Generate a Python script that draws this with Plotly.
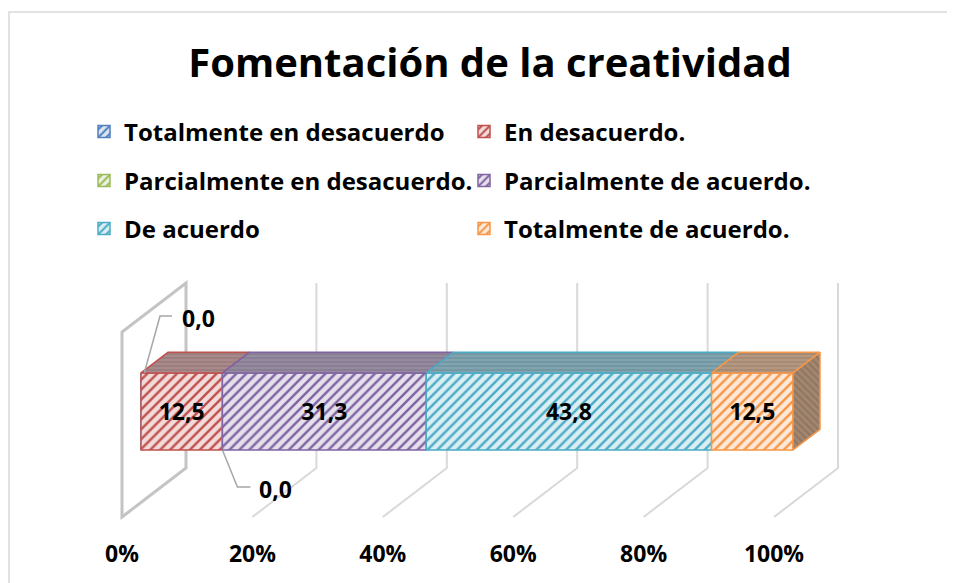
import plotly.graph_objects as go

# data
categories = ["Totalmente en desacuerdo", "En desacuerdo.", "Parcialmente en desacuerdo.",
              "Parcialmente de acuerdo.", "De acuerdo", "Totalmente de acuerdo."]
values = [0.0, 12.5, 0.0, 31.3, 43.8, 12.5]
tick_values = [0, 20, 40, 60, 80, 100]
tick_labels = ["0%", "20%", "40%", "60%", "80%", "100%"]

# styles
colors = ["#4F81BD", "#C0504D", "#9BBB59", "#8064A2", "#4BACC6", "#F79646"]
tints = ["#dbe5f1", "#f2dcdb", "#ebf1de", "#e5e0ec", "#dbeef3", "#fde9d9"]
top_bg = ["#8c9bb0", "#a88a8c", "#a0aa8c", "#958b9f", "#82a4ae", "#b39780"]
top_fg = ["#6e7e96", "#8a6a6c", "#84906c", "#776c83", "#5f8894", "#957860"]
FONT = "Open Sans"

# geometry of the fake 3D box, in reference pixels
W, H = 955, 583
OFF = 8                 # page body margin, so shift everything up/left
FW, FH = W - OFF, H - OFF
PLOT_B = 538 - OFF      # bottom of plot area (figure px)
PX = 6.52               # pixels per percent
X0_FRONT = 141          # 0% on the bar front plane
FLOOR_X, FLOOR_Y = 122, 517
DEPTH_DX, DEPTH_DY = 64, 49
WALL_H = 185
T_FRONT = (X0_FRONT - FLOOR_X) / DEPTH_DX
T_BACK = T_FRONT + 27 / DEPTH_DX
Z_BOT, Z_TOP = 52.5, 129.5


def proj(v, t, z):
    x_px = FLOOR_X + PX * v + DEPTH_DX * t
    y_px = FLOOR_Y - DEPTH_DY * t - z - OFF
    return (x_px - X0_FRONT) / PX, PLOT_B - y_px


total = sum(values)
shares = [v / total * 100 for v in values]
starts = [sum(shares[:i]) for i in range(len(shares))]
ends = [s + w for s, w in zip(starts, shares)]

_, y_bot = proj(0, T_FRONT, Z_BOT)
_, y_top = proj(0, T_FRONT, Z_TOP)
y_mid = (y_bot + y_top) / 2

fig = go.Figure()
legends = ["legend", "legend", "legend2", "legend2", "legend3", "legend3"]
lab_font = dict(family=FONT, size=23, color="black", weight="bold")

# front faces
for i, name in enumerate(categories):
    fig.add_trace(go.Bar(
        x=[shares[i]], y=[y_mid], base=[starts[i]], orientation="h", width=y_top - y_bot,
        name=name, legend=legends[i], customdata=[values[i]],
        texttemplate="%{customdata:.1f}" if values[i] > 0 else "",
        textposition="inside", insidetextanchor="middle", textfont=lab_font,
        marker=dict(color=tints[i], line=dict(color=colors[i], width=1.5),
                    pattern=dict(shape="/", fgcolor=colors[i], bgcolor=tints[i],
                                 size=7, solidity=0.35, fillmode="replace")),
        hoverinfo="skip",
    ))

# top faces and right side
for i in range(len(values)):
    if values[i] <= 0:
        continue
    pts = [proj(starts[i], T_FRONT, Z_TOP), proj(ends[i], T_FRONT, Z_TOP),
           proj(ends[i], T_BACK, Z_TOP), proj(starts[i], T_BACK, Z_TOP),
           proj(starts[i], T_FRONT, Z_TOP)]
    fig.add_trace(go.Scatter(
        x=[p[0] for p in pts], y=[p[1] for p in pts], mode="lines", fill="toself",
        fillcolor=top_bg[i], line=dict(color=colors[i], width=1.5),
        fillpattern=dict(shape="-", fgcolor=top_fg[i], bgcolor=top_bg[i], size=4, solidity=0.4),
        showlegend=False, hoverinfo="skip"))

last = len(values) - 1
pts = [proj(ends[last], T_FRONT, Z_BOT), proj(ends[last], T_FRONT, Z_TOP),
       proj(ends[last], T_BACK, Z_TOP), proj(ends[last], T_BACK, Z_BOT),
       proj(ends[last], T_FRONT, Z_BOT)]
fig.add_trace(go.Scatter(
    x=[p[0] for p in pts], y=[p[1] for p in pts], mode="lines", fill="toself",
    fillcolor="#a28670", line=dict(color=colors[last], width=1.5),
    fillpattern=dict(shape="\\", fgcolor="#7d6450", bgcolor="#a28670", size=5, solidity=0.4),
    showlegend=False, hoverinfo="skip"))

# walls and gridlines (behind)
shapes = []
for v in tick_values:
    b0 = proj(v, 0, 0)
    b1 = proj(v, 1, 0)
    t1 = proj(v, 1, WALL_H)
    if v == 0:
        t0 = proj(v, 0, WALL_H)
        path = "M {} {} L {} {} L {} {} L {} {} Z".format(b0[0], b0[1], b1[0], b1[1], t1[0], t1[1], t0[0], t0[1])
        shapes.append(dict(type="path", path=path, xref="x", yref="y", layer="below",
                           line=dict(color="#c4c4c4", width=3)))
    else:
        path = "M {} {} L {} {} L {} {}".format(b0[0], b0[1], b1[0], b1[1], t1[0], t1[1])
        shapes.append(dict(type="path", path=path, xref="x", yref="y", layer="below",
                           line=dict(color="#d9d9d9", width=2)))

# chart border
shapes.append(dict(type="rect", xref="paper", yref="paper", x0=(9 - OFF) / FW, x1=1.05,
                   y0=-0.3, y1=(PLOT_B - (12 - OFF)) / PLOT_B, line=dict(color="#d9d9d9", width=1.5),
                   layer="below"))
fig.update_layout(shapes=shapes)

# zero labels with leader lines
zero_idx = [i for i, v in enumerate(values) if v == 0]
leader_spec = {0: (Z_TOP, 1), 2: (Z_BOT, -1)}   # attach to top or bottom edge, direction
for i in zero_idx:
    z, d = leader_spec.get(i, (Z_TOP, 1))
    x0, y0 = proj(starts[i], T_FRONT, z)
    if d > 0:
        xs = [x0 + 0.5, x0 + 19 / PX, x0 + 31 / PX]
        ys = [y0, y0 + 57, y0 + 57]
        lx, ly = x0 + 57 / PX, y0 + 55
    else:
        xs = [x0, x0 + 15 / PX, x0 + 28 / PX]
        ys = [y0, y0 - 37, y0 - 37]
        lx, ly = x0 + 53 / PX, y0 - 39
    fig.add_trace(go.Scatter(x=xs, y=ys, mode="lines", line=dict(color="#a6a6a6", width=1.5),
                             showlegend=False, hoverinfo="skip"))
    fig.add_annotation(x=lx, y=ly, text="{:.1f}".format(values[i]).replace(".", ","),
                       showarrow=False, xanchor="center", yanchor="middle", font=lab_font)

# figure px 0 is reference px OFF
x_lo = -(X0_FRONT - OFF) / PX
x_hi = (W - X0_FRONT) / PX
fig.update_layout(
    width=FW, height=FH,
    margin=dict(l=0, r=0, t=0, b=FH - PLOT_B),
    plot_bgcolor="white", paper_bgcolor="white",
    barmode="overlay",
    separators=",.",
    title=dict(text="Fomentación de la creatividad", x=(490 - OFF) / FW, xanchor="center",
               y=1 - (63 - OFF) / FH, yanchor="middle",
               font=dict(family=FONT, size=40, color="black", weight="bold")),
    xaxis=dict(range=[x_lo, x_hi], showgrid=False, zeroline=False, showline=False,
               tickvals=[proj(v, 0, 0)[0] for v in tick_values], ticktext=tick_labels,
               ticks="", tickfont=lab_font),
    yaxis=dict(range=[0, PLOT_B], visible=False),
)

leg_font = dict(family=FONT, size=24, color="black", weight="bold")
for key, ypx in [("legend", 132), ("legend2", 181), ("legend3", 229)]:
    fig.update_layout({key: dict(orientation="h", x=(80 - OFF + 4) / FW, xanchor="left",
                                 y=(PLOT_B - (ypx - OFF)) / PLOT_B, yanchor="middle",
                                 entrywidth=335, entrywidthmode="pixels",
                                 font=leg_font, bgcolor="rgba(0,0,0,0)", itemwidth=30)})

fig.write_html("out.html")
